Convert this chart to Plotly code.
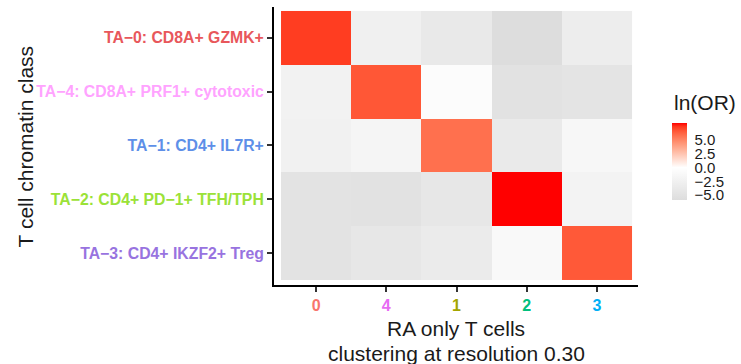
import plotly.graph_objects as go

# Row classes (top to bottom) and column clusters (left to right)
row_labels = ["TA−0: CD8A+ GZMK+", "TA−4: CD8A+ PRF1+ cytotoxic", "TA−1: CD4+ IL7R+",
              "TA−2: CD4+ PD−1+ TFH/TPH", "TA−3: CD4+ IKZF2+ Treg"]
row_colors = ["#E8575B", "#FFA3FF", "#5E8FE8", "#9BE238", "#9873E0"]
col_labels = ["0", "4", "1", "2", "3"]
col_colors = ["#F8766D", "#E76BF3", "#A3A500", "#00BF7D", "#00B0F6"]

# ln(odds ratio), one list per row class
ln_or_ta0 = [7.3, -2.6, -3.8, -5.9, -3.1]
ln_or_ta4 = [-2.3, 6.6, -0.5, -5.0, -4.7]
ln_or_ta1 = [-2.4, -1.7, 5.8, -3.6, -1.4]
ln_or_ta2 = [-4.9, -5.0, -4.2, 8.1, -2.1]
ln_or_ta3 = [-4.9, -4.2, -3.5, -1.0, 6.55]
z = [ln_or_ta0, ln_or_ta4, ln_or_ta1, ln_or_ta2, ln_or_ta3]

cbar_ticks = [-5.0, -2.5, 0.0, 2.5, 5.0]

zmin = min(min(r) for r in z)
zmax = max(max(r) for r in z)

FONT = "Liberation Sans, Arial, sans-serif"
TEXT = "#1a1a1a"


# --- diverging colour scale: grey -> white -> red, red half interpolated in CIELAB
def srgb_to_lin(c):
    c = c / 255.0
    return c / 12.92 if c <= 0.04045 else ((c + 0.055) / 1.055) ** 2.4


def lin_to_srgb(c):
    c = max(0.0, min(1.0, c))
    v = 12.92 * c if c <= 0.0031308 else 1.055 * c ** (1 / 2.4) - 0.055
    return int(round(v * 255))


def rgb_to_lab(rgb):
    r, g, b = (srgb_to_lin(v) for v in rgb)
    x = (0.4124 * r + 0.3576 * g + 0.1805 * b) / 0.95047
    y = 0.2126 * r + 0.7152 * g + 0.0722 * b
    zz = (0.0193 * r + 0.1192 * g + 0.9505 * b) / 1.08883

    def f(t):
        return t ** (1 / 3) if t > 0.008856 else 7.787 * t + 16 / 116

    fx, fy, fz = f(x), f(y), f(zz)
    return 116 * fy - 16, 500 * (fx - fy), 200 * (fy - fz)


def lab_to_rgb(lab):
    L, a, b = lab
    fy = (L + 16) / 116
    fx = fy + a / 500
    fz = fy - b / 200

    def finv(t):
        return t ** 3 if t ** 3 > 0.008856 else (t - 16 / 116) / 7.787

    x, y, zz = finv(fx) * 0.95047, finv(fy), finv(fz) * 1.08883
    r = 3.2406 * x - 1.5372 * y - 0.4986 * zz
    g = -0.9689 * x + 1.8758 * y + 0.0415 * zz
    bl = 0.0557 * x - 0.2040 * y + 1.0570 * zz
    return lin_to_srgb(r), lin_to_srgb(g), lin_to_srgb(bl)


low_rgb, mid_rgb, high_rgb = (221, 221, 221), (255, 255, 255), (255, 0, 0)
mid_pos = (0 - zmin) / (zmax - zmin)
colorscale = [[0.0, "rgb(%d,%d,%d)" % low_rgb], [mid_pos, "rgb(%d,%d,%d)" % mid_rgb]]
lab_mid, lab_high = rgb_to_lab(mid_rgb), rgb_to_lab(high_rgb)
n_steps = 12
for i in range(1, n_steps + 1):
    t = i / n_steps
    lab = tuple(m + (h - m) * t for m, h in zip(lab_mid, lab_high))
    colorscale.append([mid_pos + (1 - mid_pos) * t, "rgb(%d,%d,%d)" % lab_to_rgb(lab)])


def fmt(v):
    return ("%.1f" % v).replace("-", "−")


fig = go.Figure(go.Heatmap(
    z=z,
    x=list(range(len(col_labels))),
    y=list(range(len(row_labels))),
    zmin=zmin, zmax=zmax,
    colorscale=colorscale,
    colorbar=dict(
        thickness=15, len=77, lenmode="pixels",
        xref="container", x=672 / 741, xanchor="left", xpad=0,
        yref="paper", y=(285 - 161.5) / 278, yanchor="middle", ypad=0,
        outlinewidth=0, ticks="outside", ticklen=5, tickcolor="white",
        tickvals=cbar_ticks, ticktext=[fmt(v) for v in cbar_ticks],
        tickfont=dict(family=FONT, size=15, color=TEXT),
    ),
))

fig.update_xaxes(
    range=[-0.6, 4.585],
    tickvals=list(range(len(col_labels))),
    ticktext=["<b><span style='color:%s'>%s</span></b>" % (c, t) for t, c in zip(col_labels, col_colors)],
    tickfont=dict(family=FONT, size=16),
    showline=True, linecolor="black", linewidth=2,
    ticks="outside", ticklen=5, tickwidth=1.5, tickcolor="#333333",
    showgrid=False, zeroline=False, fixedrange=True,
)
fig.update_yaxes(
    range=[4.593, -0.574],
    tickvals=list(range(len(row_labels))),
    ticktext=["<b><span style='color:%s'>%s</span></b>" % (c, t) for t, c in zip(row_labels, row_colors)],
    tickfont=dict(family=FONT, size=15.8),
    showline=True, linecolor="black", linewidth=2,
    ticks="outside", ticklen=5, tickwidth=1.5, tickcolor="#333333",
    showgrid=False, zeroline=False, fixedrange=True,
)

# axis titles and legend title
fig.add_annotation(text="T cell chromatin class", xref="paper", yref="paper",
                   x=-0.683, y=0.5, xanchor="center", yanchor="middle", textangle=-90,
                   showarrow=False, font=dict(family=FONT, size=21, color=TEXT))
fig.add_annotation(text="RA only T cells", xref="paper", yref="paper",
                   x=0.5, y=-0.158, xanchor="center", yanchor="middle", showarrow=False,
                   font=dict(family=FONT, size=21, color=TEXT))
fig.add_annotation(text="clustering at resolution 0.30", xref="paper", yref="paper",
                   x=0.5, y=-0.246, xanchor="center", yanchor="middle", showarrow=False,
                   font=dict(family=FONT, size=21, color=TEXT))
fig.add_annotation(text="ln(OR)", xref="paper", yref="paper",
                   x=(672 - 274) / 364, y=(285 - 103) / 278, xanchor="left", yanchor="middle",
                   showarrow=False, font=dict(family=FONT, size=21, color=TEXT))

fig.update_layout(
    width=741, height=364,
    margin=dict(l=274, r=103, t=7, b=79),
    paper_bgcolor="white", plot_bgcolor="white",
    font=dict(family=FONT),
)

fig.write_html("out.html")
